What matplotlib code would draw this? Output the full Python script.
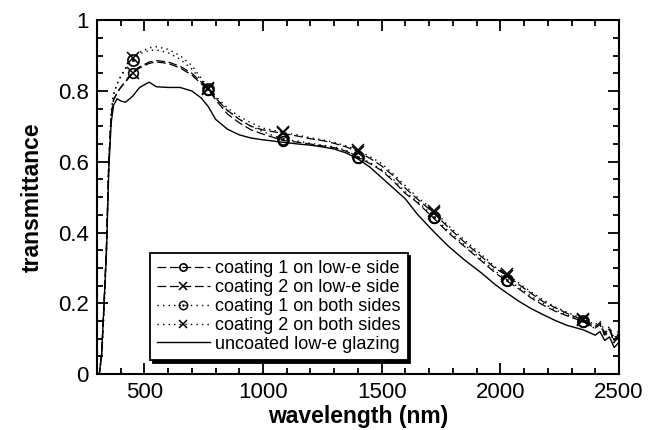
import matplotlib
matplotlib.use("Agg")
from matplotlib import pyplot as plt
from matplotlib.ticker import MultipleLocator, FuncFormatter

plt.rcParams['font.family'] = ['Liberation Sans', 'DejaVu Sans']

# wavelength grid (nm)
wavelength = [300, 310, 320, 330, 340, 350, 360, 370, 385, 400, 420, 450, 480, 520, 550,
              600, 650, 700, 740, 770, 800, 850, 900, 950, 1000, 1085, 1150, 1200, 1250,
              1300, 1350, 1400, 1450, 1500, 1550, 1600, 1650, 1720, 1780, 1850, 1920,
              1980, 2030, 2080, 2130, 2180, 2230, 2280, 2350, 2400, 2420, 2440, 2460,
              2480, 2500]

uncoated = [0.0, 0.0, 0.06, 0.2, 0.34, 0.58, 0.71, 0.76, 0.778, 0.772, 0.768, 0.785, 0.81,
            0.825, 0.812, 0.81, 0.81, 0.80, 0.78, 0.755, 0.72, 0.692, 0.676, 0.667, 0.662,
            0.655, 0.65, 0.647, 0.642, 0.636, 0.625, 0.608, 0.585, 0.555, 0.525, 0.495,
            0.452, 0.402, 0.362, 0.322, 0.286, 0.252, 0.228, 0.205, 0.185, 0.168, 0.152,
            0.138, 0.125, 0.11, 0.12, 0.095, 0.105, 0.075, 0.09]

c1_lowe = [0.0, 0.0, 0.06, 0.2, 0.36, 0.6, 0.73, 0.775, 0.795, 0.81, 0.825, 0.85, 0.865,
           0.878, 0.882, 0.878, 0.865, 0.845, 0.82, 0.803, 0.775, 0.735, 0.71, 0.69, 0.678,
           0.66, 0.655, 0.65, 0.645, 0.64, 0.63, 0.612, 0.595, 0.575, 0.545, 0.51, 0.485,
           0.44, 0.40, 0.36, 0.32, 0.285, 0.262, 0.24, 0.215, 0.195, 0.178, 0.165, 0.148,
           0.13, 0.14, 0.11, 0.125, 0.09, 0.11]

c2_lowe = [0.0, 0.0, 0.06, 0.2, 0.36, 0.6, 0.73, 0.775, 0.795, 0.81, 0.827, 0.852, 0.868,
           0.882, 0.886, 0.882, 0.87, 0.85, 0.825, 0.806, 0.78, 0.745, 0.72, 0.70, 0.69,
           0.68, 0.672, 0.665, 0.66, 0.652, 0.642, 0.628, 0.61, 0.588, 0.56, 0.525, 0.495,
           0.455, 0.415, 0.372, 0.332, 0.298, 0.278, 0.252, 0.228, 0.205, 0.188, 0.172,
           0.152, 0.135, 0.145, 0.115, 0.13, 0.095, 0.115]

c1_both = [0.0, 0.0, 0.05, 0.18, 0.35, 0.6, 0.74, 0.79, 0.82, 0.84, 0.862, 0.888, 0.905,
           0.915, 0.916, 0.908, 0.89, 0.862, 0.83, 0.805, 0.78, 0.745, 0.72, 0.70, 0.685,
           0.663, 0.658, 0.652, 0.647, 0.642, 0.632, 0.614, 0.598, 0.578, 0.55, 0.515,
           0.488, 0.445, 0.405, 0.365, 0.325, 0.29, 0.266, 0.245, 0.22, 0.2, 0.182, 0.168,
           0.15, 0.128, 0.145, 0.105, 0.13, 0.085, 0.12]

c2_both = [0.0, 0.0, 0.05, 0.18, 0.35, 0.6, 0.74, 0.79, 0.82, 0.842, 0.865, 0.892, 0.91,
           0.922, 0.925, 0.918, 0.9, 0.872, 0.835, 0.808, 0.785, 0.752, 0.728, 0.71, 0.695,
           0.683, 0.675, 0.668, 0.662, 0.655, 0.645, 0.632, 0.615, 0.595, 0.565, 0.532,
           0.5, 0.462, 0.42, 0.378, 0.338, 0.302, 0.282, 0.256, 0.232, 0.21, 0.19, 0.175,
           0.155, 0.14, 0.15, 0.12, 0.135, 0.1, 0.125]

# wavelengths where the symbols sit
marker_wl = [450, 770, 1085, 1400, 1720, 2030, 2350]
marks = [wavelength.index(w) for w in marker_wl]

fig = plt.figure(figsize=(6.55, 4.3), dpi=100)
ax = fig.add_axes([0.148, 0.130, 0.797, 0.823])

ax.plot(wavelength, c1_lowe, color='k', lw=0.9, dashes=(7, 3), marker='o', ms=7,
        mfc='none', mew=1.2, markevery=marks, label='coating 1 on low-e side')
ax.plot(wavelength, c2_lowe, color='k', lw=0.9, dashes=(7, 3), marker='x', ms=8,
        mew=1.1, markevery=marks, label='coating 2 on low-e side')
ax.plot(wavelength, c1_both, color='k', lw=1.0, dashes=(1, 3), marker=r'$\odot$', ms=9,
        mew=0.3, markevery=marks, label='coating 1 on both sides')
ax.plot(wavelength, c2_both, color='k', lw=1.0, dashes=(1, 3), marker='x', ms=8,
        mew=1.1, markevery=marks, label='coating 2 on both sides')
ax.plot(wavelength, uncoated, color='k', lw=1.0, label='uncoated low-e glazing')

ax.set_xlim(300, 2500)
ax.set_ylim(0, 1)
ax.xaxis.set_major_locator(MultipleLocator(500))
ax.xaxis.set_minor_locator(MultipleLocator(100))
ax.yaxis.set_major_locator(MultipleLocator(0.2))
ax.yaxis.set_minor_locator(MultipleLocator(0.05))
ax.yaxis.set_major_formatter(FuncFormatter(lambda v, p: '%g' % round(v, 2)))

ax.tick_params(which='both', direction='in', top=True, right=True, labelsize=16, width=1.3)
ax.tick_params(which='major', length=8, pad=6)
ax.tick_params(which='minor', length=4.5)
for s in ax.spines.values():
    s.set_linewidth(1.5)

ax.set_xlabel('wavelength (nm)', fontsize=16.5, fontweight='bold', labelpad=1)
ax.set_ylabel('transmittance', fontsize=16.5, fontweight='bold', labelpad=10)

leg = ax.legend(loc='lower left', bbox_to_anchor=(0.1015, 0.04), borderaxespad=0,
                fontsize=13, frameon=True, fancybox=False, shadow={'color': 'k', 'alpha': 1},
                handlelength=2.9, handletextpad=0.3, labelspacing=0.1, borderpad=0.4,
                markerscale=0.75)
leg.get_frame().set_edgecolor('k')
leg.get_frame().set_linewidth(1.3)

fig.savefig('out.png', dpi=100)
